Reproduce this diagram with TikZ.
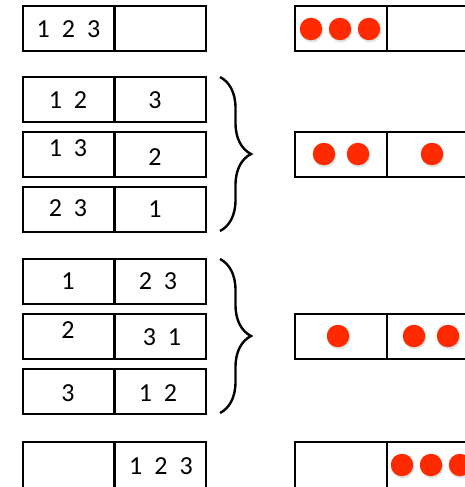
\documentclass[tikz,border=0pt]{standalone}
\usepackage{fontspec}
\setmainfont{Carlito}
\usetikzlibrary{decorations.pathreplacing,shadows}
\definecolor{dotred}{HTML}{FF2A00}
\newcommand\gp{\hspace{12pt}}
\begin{document}
\begin{tikzpicture}[x=1pt,y=-1pt,
  cell/.style={draw=black, line width=2pt, minimum width=91.5pt, minimum height=45pt, inner sep=0pt, outer sep=0pt, anchor=north west},
  tallcell/.style={cell, minimum height=50pt},
  num/.style={font=\fontsize{26}{30}\selectfont, inner sep=0pt},
  dot/.style={circle, fill=dotred, minimum size=22.5pt, inner sep=0pt, drop shadow={opacity=0.22, shadow xshift=1pt, shadow yshift=-2.2pt}},
  br/.style={decorate, decoration={brace, amplitude=31pt}, line width=2.4pt}]
\useasboundingbox[fill=white] (0,0) rectangle (464,487);
% left column
\node[cell] (L1) at (23,6) {};   \node[cell] (R1) at (114,6) {};
\node[cell] (L2) at (23,77) {};  \node[cell] (R2) at (114,77) {};
\node[cell] (L3) at (23,132) {}; \node[cell] (R3) at (114,132) {};
\node[cell] (L4) at (23,187) {}; \node[cell] (R4) at (114,187) {};
\node[cell] (L5) at (23,259) {}; \node[cell] (R5) at (114,259) {};
\node[cell] (L6) at (23,314) {}; \node[cell] (R6) at (114,314) {};
\node[cell] (L7) at (23,369) {}; \node[cell] (R7) at (114,369) {};
\node[tallcell] (L8) at (23,442) {}; \node[tallcell] (R8) at (114,442) {};
% texts
\node[num] (t1a) at (68.5,29.5) {1\gp2\gp3};
\node[num] (t2a) at (68,100) {1\gp2};   \node[num] (t2b) at (155,100) {3};
\node[num] (t3a) at (68,148) {1\gp3};   \node[num] (t3b) at (155,157) {2};
\node[num] (t4a) at (68,208) {2\gp3};   \node[num] (t4b) at (155,209) {1};
\node[num] (t5a) at (68,281) {1};       \node[num] (t5b) at (158,281) {2\gp3};
\node[num] (t6a) at (68,330) {2};       \node[num] (t6b) at (162,337) {3\gp1};
\node[num] (t7a) at (68,393) {3};       \node[num] (t7b) at (158,393) {1\gp2};
\node[num] (t8b) at (161,466) {1\gp2\gp3};
% braces
\coordinate (b1t) at (220,77);  \coordinate (b1b) at (220,231);
\coordinate (b2t) at (220,259); \coordinate (b2b) at (220,413);
\draw[br] (b1t) -- (b1b);
\draw[br] (b2t) -- (b2b);
% right column
\node[cell] (PA) at (295,6) {};    \node[cell] (QA) at (386.5,6) {};
\node[cell] (PB) at (295,132) {};  \node[cell] (QB) at (386.5,132) {};
\node[cell] (PC) at (295,314) {};  \node[cell] (QC) at (386.5,314) {};
\node[tallcell] (PD) at (295,442) {}; \node[tallcell] (QD) at (386.5,442) {};
% dots
\node[dot] (d1) at (311,29) {};  \node[dot] (d2) at (340,29) {};  \node[dot] (d3) at (369,29) {};
\node[dot] (d4) at (324,154) {}; \node[dot] (d5) at (358,154) {}; \node[dot] (d6) at (432,154) {};
\node[dot] (d7) at (338,336) {}; \node[dot] (d8) at (414,336) {}; \node[dot] (d9) at (448,336) {};
\node[dot] (d10) at (402,465) {}; \node[dot] (d11) at (431,465) {}; \node[dot] (d12) at (460,465) {};
\end{tikzpicture}
\end{document}
